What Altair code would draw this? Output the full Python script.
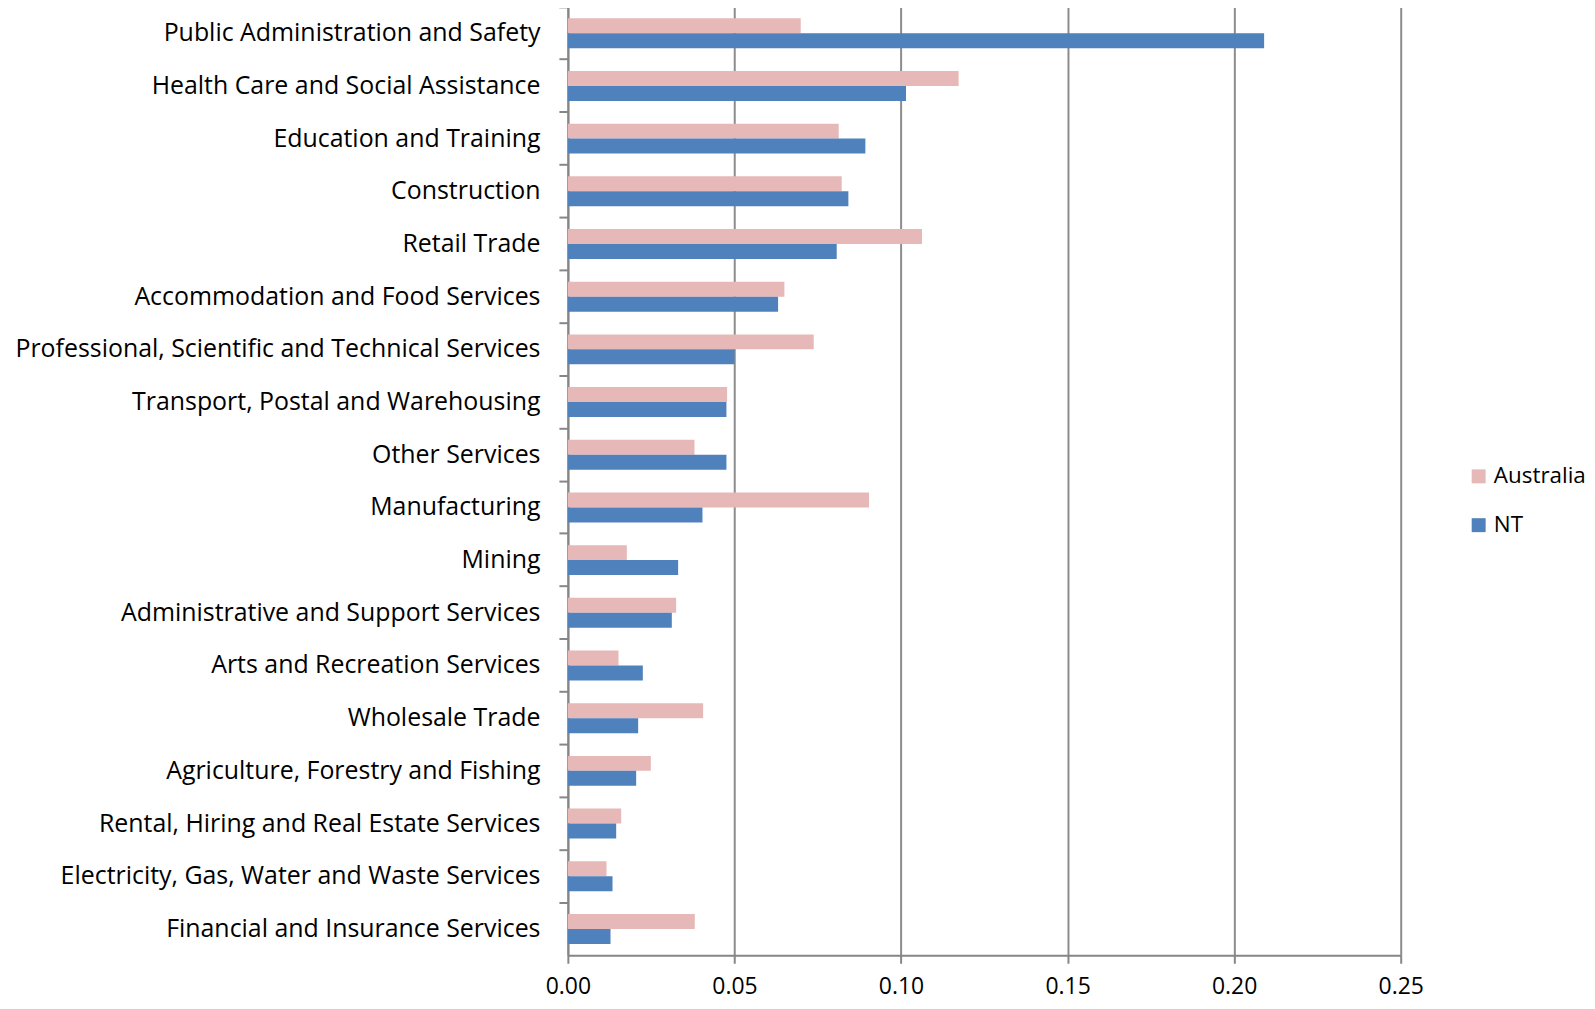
import altair as alt
import pandas as pd

categories = [
    "Public Administration and Safety",
    "Health Care and Social Assistance",
    "Education and Training",
    "Construction",
    "Retail Trade",
    "Accommodation and Food Services",
    "Professional, Scientific and Technical Services",
    "Transport, Postal and Warehousing",
    "Other Services",
    "Manufacturing",
    "Mining",
    "Administrative and Support Services",
    "Arts and Recreation Services",
    "Wholesale Trade",
    "Agriculture, Forestry and Fishing",
    "Rental, Hiring and Real Estate Services",
    "Electricity, Gas, Water and Waste Services",
    "Financial and Insurance Services",
]
australia = [0.0699, 0.1173, 0.0813, 0.0822, 0.1063, 0.0650, 0.0738, 0.0478, 0.0380,
             0.0904, 0.0177, 0.0325, 0.0152, 0.0406, 0.0249, 0.0160, 0.0116, 0.0381]
nt = [0.2090, 0.1015, 0.0893, 0.0842, 0.0807, 0.0631, 0.0500, 0.0476, 0.0476,
      0.0404, 0.0331, 0.0312, 0.0225, 0.0211, 0.0205, 0.0145, 0.0134, 0.0128]
series = ["Australia", "NT"]
colors = ["#E6B9B8", "#4F81BD"]
x_ticks = [0.0, 0.05, 0.10, 0.15, 0.20, 0.25]

rows = []
for c, a, n in zip(categories, australia, nt):
    rows.append({"Industry": c, "Series": "Australia", "Value": a})
    rows.append({"Industry": c, "Series": "NT", "Value": n})
df = pd.DataFrame(rows)

FONT = "Open Sans"

chart = alt.Chart(df).mark_bar().encode(
    y=alt.Y("Industry:N", sort=categories,
            scale=alt.Scale(paddingInner=0, paddingOuter=0),
            axis=alt.Axis(title=None, bandPosition=0, labelFontSize=25, labelFont=FONT,
                          labelColor="#000000", labelPadding=19, tickSize=9,
                          tickColor="#868686", tickWidth=2, domainColor="#868686",
                          domainWidth=2, grid=False, labelLimit=700)),
    yOffset=alt.YOffset("Series:N", sort=series,
                        scale=alt.Scale(paddingOuter=0.76, paddingInner=0)),
    x=alt.X("Value:Q", scale=alt.Scale(domain=[0, 0.25], nice=False),
            axis=alt.Axis(title=None, values=x_ticks, format=".2f", labelFontSize=23,
                          labelFont=FONT, labelColor="#000000", labelPadding=12,
                          labelFlush=False,
                          tickSize=8, tickColor="#868686", tickWidth=2,
                          domainColor="#868686", domainWidth=2, grid=True,
                          gridColor="#8C8C8C", gridWidth=2)),
    color=alt.Color("Series:N", sort=series,
                    scale=alt.Scale(domain=series, range=colors),
                    legend=alt.Legend(title=None, orient="none", legendX=903, legendY=460,
                                      symbolType="square", symbolSize=196,
                                      symbolStrokeWidth=0, labelFontSize=22.5,
                                      labelFont=FONT, labelColor="#000000",
                                      rowPadding=26, padding=0, labelOffset=4)),
).properties(
    width=836,
    height=952,
    autosize=alt.AutoSizeParams(type="none"),
    padding={"left": 562, "top": -3, "right": 187, "bottom": 43},
).configure_view(stroke=None).configure_axis(
    labelFont=FONT
)

chart.save("out.html", embed_options={"renderer": "svg", "actions": False})
